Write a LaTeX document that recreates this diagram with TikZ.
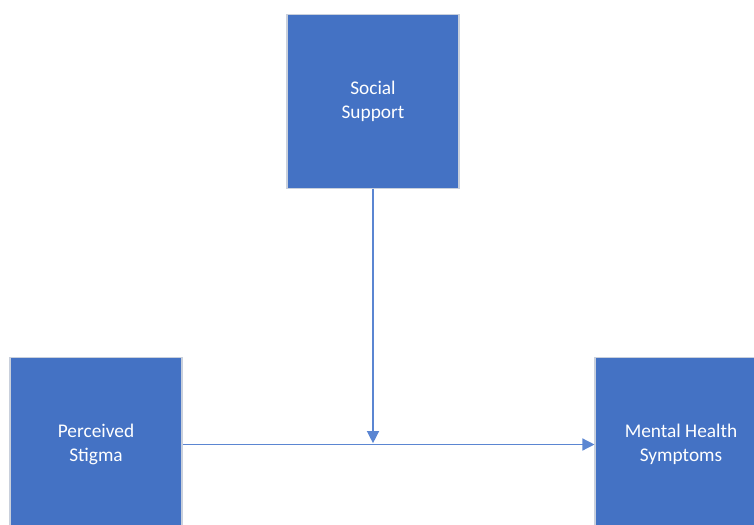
\documentclass[tikz,border=0pt]{standalone}
\usepackage{fontspec}
\setmainfont{Carlito}
\usetikzlibrary{arrows.meta}
\definecolor{boxblue}{HTML}{4472C4}
\definecolor{lineblue}{HTML}{5B86D2}
\definecolor{boxedge}{HTML}{C9D0DC}
\tikzset{
  varbox/.style={draw=boxedge, line width=0.8pt, fill=boxblue, minimum width=129pt, minimum height=130pt,
    inner sep=0pt, align=center, text=white, font=\fontsize{14.5}{17.5}\selectfont},
  link/.style={draw=lineblue, line width=1pt, -{Triangle[width=9pt,length=9pt]}}
}
\begin{document}
\begin{tikzpicture}[x=0.75pt,y=-0.75pt]
\useasboundingbox (0,0) rectangle (754,525);
\clip (0,0) rectangle (754,525);
\node[varbox] (support) at (373,101.5) {Social\\Support};
\node[varbox] (stigma) at (96,444.5) {Perceived\\Stigma};
\node[varbox] (symptoms) at (681,444.5) {Mental Health\\Symptoms};
\coordinate (mid) at (373,444.5);
\draw[link] (stigma.east |- mid) -- (symptoms.west |- mid);
\draw[link, shorten >=1pt] (support.south) -- (mid);
\end{tikzpicture}
\end{document}
